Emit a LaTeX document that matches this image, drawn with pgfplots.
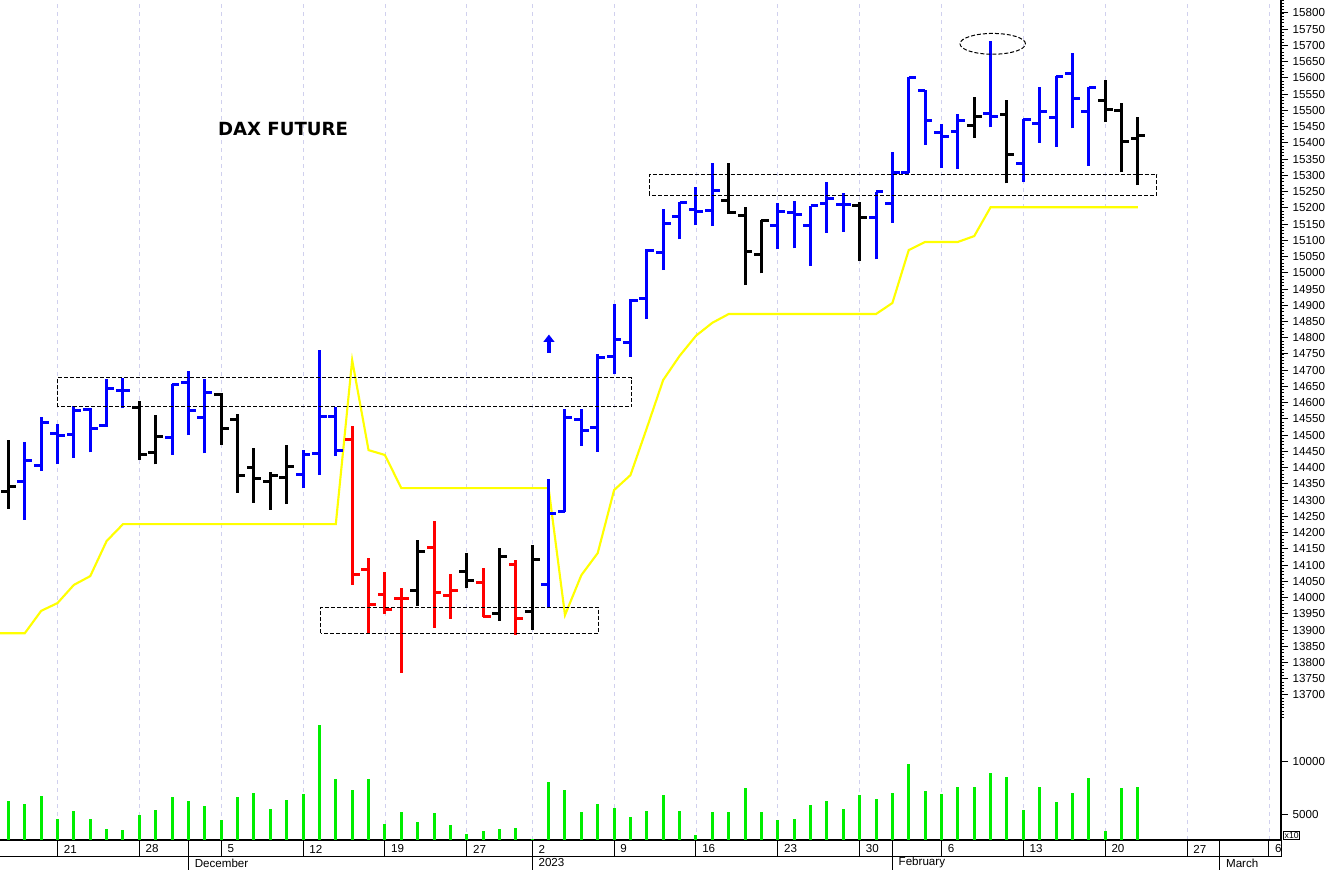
\documentclass[border=0pt]{standalone}
\usepackage{fontspec}
\setmainfont{Liberation Sans}
\newfontfamily\dejavu{DejaVu Sans}
\usepackage{pgfplots}
\pgfplotsset{compat=1.18}
\usepackage{pgfplotstable}
\usetikzlibrary{arrows.meta}

\definecolor{cblue}{RGB}{0,0,255}
\definecolor{cred}{RGB}{255,0,0}
\definecolor{cyellow}{RGB}{255,255,0}
\definecolor{cgreen}{RGB}{0,238,0}
\definecolor{gridlav}{RGB}{208,208,238}

\pgfplotstableread{
i O H L C
2 14357 14480 14239 14423
3 14408 14555 14390 14538
4 14506 14533 14411 14498
5 14502 14590 14431 14575
6 14580 14583 14447 14521
7 14531 14672 14526 14644
8 14639 14677 14583 14637
11 14493 14657 14439 14655
12 14662 14698 14500 14577
13 14555 14672 14444 14631
19 14380 14454 14336 14442
20 14444 14762 14377 14557
21 14557 14587 14436 14452
34 14041 14364 13967 14260
35 14264 14580 14264 14555
36 14548 14580 14467 14514
37 14524 14750 14449 14740
38 14741 14904 14687 14796
39 14786 14918 14742 14915
40 14920 15072 14857 15070
41 15062 15195 15008 15152
42 15173 15219 15103 15215
43 15196 15265 15147 15190
44 15193 15339 15144 15253
48 15145 15216 15072 15190
49 15185 15221 15075 15181
50 15147 15206 15021 15206
51 15213 15280 15123 15229
52 15209 15247 15126 15209
54 15170 15250 15041 15249
55 15212 15373 15154 15310
56 15310 15604 15306 15600
57 15560 15563 15395 15470
58 15432 15457 15322 15419
59 15436 15489 15319 15468
61 15490 15714 15448 15480
63 15335 15473 15280 15473
64 15460 15571 15400 15498
65 15478 15606 15388 15604
66 15614 15676 15445 15536
67 15496 15572 15329 15572
}\bluebars

\pgfplotstableread{
i O H L C
1 14328 14485 14273 14341
9 14584 14606 14423 14441
10 14447 14562 14410 14495
14 14624 14631 14470 14521
15 14547 14565 14323 14376
16 14401 14460 14292 14367
17 14357 14387 14270 14377
18 14369 14470 14288 14405
26 14023 14177 13975 14143
29 14080 14136 14028 14052
31 13951 14154 13928 14126
33 13956 14163 13901 14116
45 15224 15339 15181 15185
46 15176 15203 14962 15067
47 15056 15162 14998 15162
53 15206 15219 15037 15170
60 15455 15542 15416 15482
62 15487 15532 15275 15365
68 15532 15593 15465 15503
69 15499 15524 15309 15404
70 15414 15480 15270 15424
}\blackbars

\pgfplotstableread{
i O H L C
22 14487 14528 14039 14072
23 14085 14123 13892 13979
24 14008 14078 13949 13962
25 13996 14028 13769 13996
27 14155 14237 13907 14016
28 14005 14074 13935 14023
30 14047 14092 13940 13941
32 14102 14117 13885 13934
}\redbars

\pgfplotstableread{
i S
0 13890
1 13890
2 13890
3 13959
4 13983
5 14039
6 14066
7 14174
8 14226
21 14226
22 14731
23 14454
24 14439
25 14337
34 14337
35 13946
36 14069
37 14137
38 14331
39 14377
40 14522
41 14670
42 14744
43 14806
44 14846
45 14873
54 14873
55 14907
56 15070
57 15095
59 15095
60 15113
61 15202
70 15202
}\stopline

\pgfplotstableread{
i V
1 6341
2 6032
3 6752
4 4597
5 5347
6 4597
7 3715
8 3621
9 5031
10 5500
11 6688
12 6282
13 5875
14 4503
15 6688
16 7064
17 5531
18 6376
19 6939
20 13442
21 8407
22 7314
23 8407
24 4156
25 5281
26 4343
27 5156
28 4062
29 3246
30 3465
31 3715
32 3809
33 2750
34 8095
35 7314
36 5250
37 6063
38 5625
39 4781
40 5375
41 6845
42 5375
43 3124
44 5281
45 5281
46 7501
47 5281
48 4531
49 4625
50 5969
51 6282
52 5531
53 6876
54 6470
55 7032
56 9784
57 7251
58 6970
59 7595
60 7595
61 8971
62 8596
63 5437
64 7626
65 6188
66 7064
67 8501
68 3468
69 7501
70 7626
}\volume

\newcommand{\ohlc}[2]{%
  \addplot[#2, line width=2.25pt, quiver={u=0, v=\thisrow{H}-\thisrow{L}}] table[x=i, y=L] {#1};
  \addplot[#2, line width=2.25pt, quiver={u=-0.45, v=0}] table[x=i, y=O] {#1};
  \addplot[#2, line width=2.25pt, quiver={u=0.45, v=0}] table[x=i, y=C] {#1};
}

\pgfplotsset{
  common/.style={
    anchor=south west, width=960.75pt, scale only axis,
    xmin=0.487, xmax=78.74,
    scaled ticks=false,
    tick label style={font=\fontsize{8.7}{10}\selectfont},
    /pgf/number format/assume math mode=true,
    /pgf/number format/1000 sep={},
  },
}

\begin{document}
\begin{tikzpicture}
\useasboundingbox (0,0) rectangle (996pt,652.5pt);

% price pane
\begin{axis}[common,
  at={(0pt,112.5pt)}, height=540pt,
  ymin=13623, ymax=15840,
  axis x line*=bottom, axis y line*=right,
  x axis line style={draw=none},
  y axis line style={-, line width=1pt},
  xtick={4,9,14,19,24,29,33,38,43,48,53,58,63,68,73,78},
  xticklabels={}, xtick style={draw=none},
  xmajorgrids, major grid style={gridlav, dash pattern=on 3pt off 3pt, line width=0.6pt},
  ytick={13700,13750,...,15800},
  minor ytick={13630,13640,...,15840},
  yticklabel={\pgfmathprintnumber[fixed,precision=0]{\tick}},
  tick align=outside,
  major tick length=5.25pt, minor tick length=2.25pt,
  ytick style={black, line width=0.75pt},
]
\addplot[cyellow, line width=1.6pt] table[x=i, y=S] {\stopline};
\ohlc{\blackbars}{black}
\ohlc{\bluebars}{cblue}
\ohlc{\redbars}{cred}
\draw[black, line width=0.75pt, dash pattern=on 3pt off 1.5pt] (axis cs:3.99,14587) rectangle (axis cs:39.08,14677);
\draw[black, line width=0.75pt, dash pattern=on 3pt off 1.5pt] (axis cs:20.08,13890) rectangle (axis cs:37.04,13970);
\draw[black, line width=0.75pt, dash pattern=on 3pt off 1.5pt] (axis cs:40.15,15239) rectangle (axis cs:71.15,15303);
\draw[black, line width=0.75pt, dash pattern=on 3pt off 1.5pt] (axis cs:61.13,15705) ellipse [x radius=2.0, y radius=32];
\draw[cblue, line width=2.4pt, -{Triangle[width=8pt,length=5.5pt]}] (axis cs:34.02,14754) -- (axis cs:34.02,14810);
\end{axis}

\node[font=\dejavu\bfseries\fontsize{13.6}{16}\selectfont] at (212.25pt,555.75pt) {DAX FUTURE};

% volume pane
\begin{axis}[common,
  at={(0pt,22.5pt)}, height=90pt,
  ymin=2655, ymax=13911,
  axis x line*=bottom, axis y line*=right,
  axis line style={-, line width=1pt},
  xtick={4,9,14,19,24,29,33,38,43,48,53,58,63,68,73,78},
  xticklabels={}, xtick style={draw=none},
  xmajorgrids, major grid style={gridlav, dash pattern=on 3pt off 3pt, line width=0.6pt},
  ytick={5000,10000},
  yticklabels={5000,10000},
  tick align=outside, major tick length=5.25pt,
  ytick style={black, line width=0.75pt},
]
\addplot[cgreen, line width=2.25pt, ycomb] table[x=i, y=V] {\volume};
\end{axis}
\node[draw, line width=0.5pt, inner sep=0.8pt, anchor=south west, font=\fontsize{6.5}{7}\selectfont] at (962.5pt,22.8pt) {x10};

% week row
\begin{axis}[common,
  at={(0pt,9.75pt)}, height=12.75pt,
  ymin=0, ymax=1,
  axis x line*=bottom, axis y line*=right,
  axis line style={-, line width=0.75pt},
  ytick=\empty,
  xtick={4,9,14,19,24,29,33,38,43,48,53,58,63,68,73,78},
  xticklabels={21,28,5,12,19,27,2,9,16,23,30,6,13,20,27,6},
  extra x ticks={12,55,75}, extra x tick labels={},
  extra x tick style={grid=major},
  major tick length=0pt,
  xmajorgrids, major grid style={black, line width=0.75pt, solid},
  xticklabel style={anchor=west, xshift=1.2pt, yshift=6pt},
]
\addplot[draw=none] coordinates {(1,0.5)};
\end{axis}

% month row
\begin{axis}[common,
  at={(0pt,0pt)}, height=9.75pt,
  ymin=0, ymax=1,
  axis x line*=bottom, axis y line=none,
  x axis line style={draw=none},
  ytick=\empty,
  xtick={12,33,55,75},
  xticklabels={December,2023,February,March},
  major tick length=0pt,
  xmajorgrids, major grid style={black, line width=0.75pt, solid},
  xticklabel style={anchor=west, xshift=1.2pt, yshift=5.25pt},
]
\addplot[draw=none] coordinates {(1,0.5)};
\end{axis}
\end{tikzpicture}
\end{document}
